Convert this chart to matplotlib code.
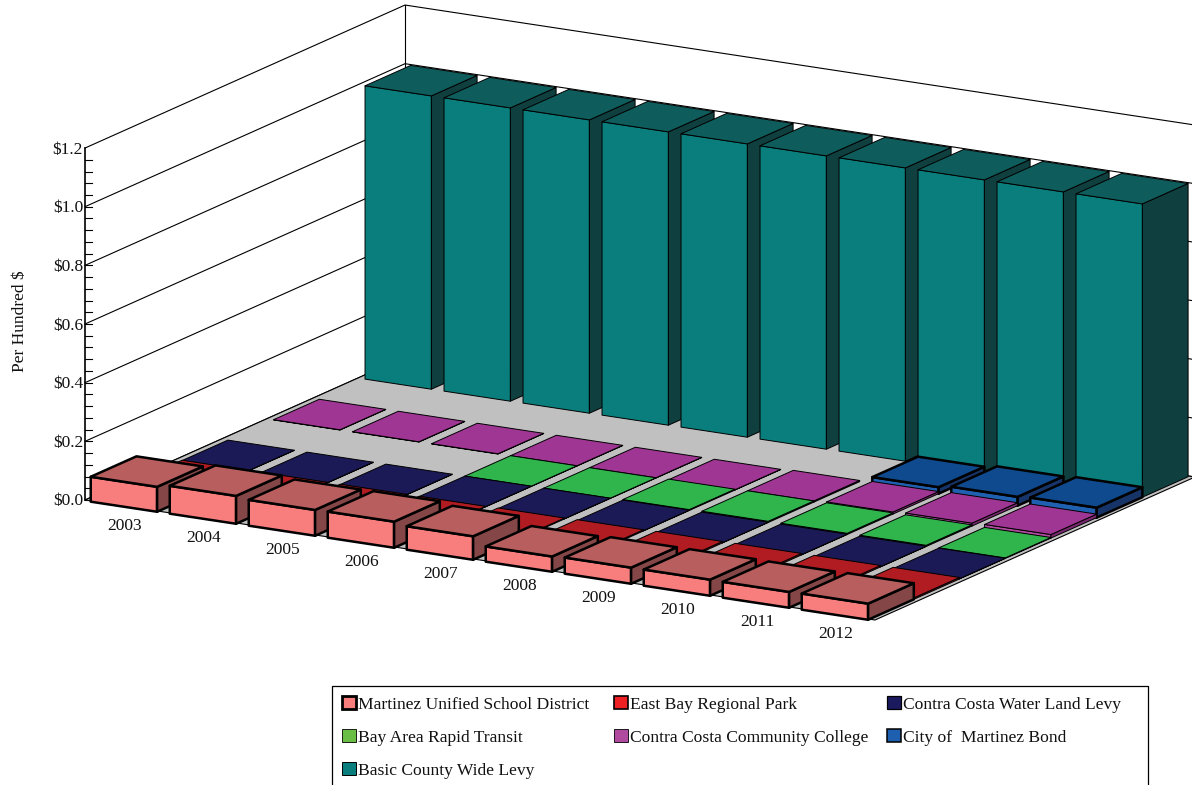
import numpy as np
import matplotlib
matplotlib.use('Agg')
import matplotlib.pyplot as plt
from matplotlib.patches import Polygon, Rectangle

plt.rcParams['font.family'] = ['Liberation Serif', 'DejaVu Serif']

# data
anos = ['2003', '2004', '2005', '2006', '2007', '2008', '2009', '2010', '2011', '2012']
nan = float('nan')
martinez = [0.085, 0.095, 0.088, 0.089, 0.080, 0.052, 0.055, 0.055, 0.054, 0.055]
east_bay = [0.002, 0.002, 0.002, 0.002, 0.003, 0.004, 0.005, 0.005, 0.005, 0.005]
water = [0.001, 0.001, 0.001, 0.001, 0.001, 0.001, 0.001, 0.001, 0.001, 0.001]
bart = [nan, nan, nan, 0.001, 0.001, 0.003, 0.004, 0.004, 0.004, 0.002]
college = [0.001, 0.001, 0.001, 0.001, 0.001, 0.001, 0.004, 0.007, 0.010, 0.012]
bond = [nan, nan, nan, nan, nan, nan, nan, 0.022, 0.030, 0.034]
county = [1.0, 1.0, 1.0, 1.0, 1.0, 1.0, 1.0, 1.0, 1.0, 1.0]
series = [martinez, east_bay, water, bart, college, bond, county]

nomes = ['Martinez Unified School District', 'East Bay Regional Park', 'Contra Costa Water Land Levy',
         'Bay Area Rapid Transit', 'Contra Costa Community College', 'City of  Martinez Bond',
         'Basic County Wide Levy']
valores_eixo = [0.0, 0.2, 0.4, 0.6, 0.8, 1.0, 1.2]

# colours per series: front, side, top, legend
cores = [('#F87E7E', '#844646', '#B85E5E', '#F87E7E'),
         ('#EE2024', '#8A1519', '#B01C22', '#EE2024'),
         ('#25236F', '#141240', '#1C1A56', '#1C1A5E'),
         ('#3CB54A', '#1F7A33', '#30B44C', '#6ABD45'),
         ('#B04A9E', '#7A2870', '#A03694', '#B04A9E'),
         ('#2060B0', '#163468', '#104A8E', '#1F5FAF'),
         ('#0A7E7C', '#0F3F3E', '#0F5C5C', '#0A7E7C')]
espessura = [1.8, 0.7, 0.7, 0.7, 0.7, 1.8, 0.7]

# oblique projection, pixels
ORIGEM = np.array([85.0, 500.0])
VEC_X = np.array([79.0, 12.0])
VEC_Z = np.array([320.0 / 7, -143.0 / 7])
PX_VALOR = 293.3


def proj(a, b, v=0.0):
    return ORIGEM + a * VEC_X + b * VEC_Z + np.array([0.0, -v * PX_VALOR])


def desenhar_barra(ax, a, b, v, cor, lw):
    l = 0.84  # largura
    frente = [proj(a, b, 0), proj(a + l, b, 0), proj(a + l, b, v), proj(a, b, v)]
    lado = [proj(a + l, b, 0), proj(a + l, b + 1, 0), proj(a + l, b + 1, v), proj(a + l, b, v)]
    topo = [proj(a, b, v), proj(a + l, b, v), proj(a + l, b + 1, v), proj(a, b + 1, v)]
    for pts, c in zip((frente, lado, topo), cor[:3]):
        ax.add_patch(Polygon(pts, closed=True, facecolor=c, edgecolor='black', linewidth=lw, joinstyle='round'))


fig = plt.figure(figsize=(11.92, 7.85), dpi=100)
ax = fig.add_axes([0, 0, 1, 1])
ax.set_xlim(0, 1192)
ax.set_ylim(785, 0)
ax.axis('off')

# floor
piso = [proj(0, 0), proj(10, 0), proj(10, 7), proj(0, 7)]
ax.add_patch(Polygon(piso, closed=True, facecolor='#C0C0C0', edgecolor='black', linewidth=0.8))

# walls and grid
for v in valores_eixo:
    p0, p1, p2 = proj(0, 0, v), proj(0, 7, v), proj(10, 7, v)
    ax.plot([p0[0], p1[0], p2[0]], [p0[1], p1[1], p2[1]], color='black', lw=0.8, zorder=0.5)
p_a, p_b = proj(0, 7, 0), proj(0, 7, 1.2)
ax.plot([p_a[0], p_b[0]], [p_a[1], p_b[1]], color='black', lw=0.8, zorder=0.5)

# value axis with ticks
p_a, p_b = proj(0, 0, 0), proj(0, 0, 1.2)
ax.plot([p_a[0], p_b[0]], [p_a[1], p_b[1]], color='black', lw=1.2, zorder=5)
for v in np.arange(0, 1.2, 0.04):
    p = proj(0, 0, v)
    ax.plot([p[0], p[0] + 7], [p[1], p[1]], color='black', lw=0.8, zorder=0.6)
for v in valores_eixo:
    p = proj(0, 0, v)
    ax.text(p[0] - 2, p[1] + 1.5, f'${v:.1f}', ha='right', va='center', fontsize=12.5, color='#111111')

# bars, back series first
for b in range(len(series) - 1, -1, -1):
    for i, v in enumerate(series[b]):
        if np.isnan(v):
            continue
        desenhar_barra(ax, i + 0.09, b - 0.03, v, cores[b], espessura[b])

# year labels
for i, ano in enumerate(anos):
    p = proj(i, 0)
    ax.text(p[0] + 40, p[1] + 26.5, ano, ha='center', va='center', fontsize=12.5, color='#111111')

ax.text(20, 321, 'Per Hundred $', rotation=90, ha='center', va='center', fontsize=12.5, color='#111111')

# legend box, runs off the bottom of the image
ax.plot([332, 332, 1148, 1148], [790, 686, 686, 790], color='black', lw=0.9)
col_x = [342, 614, 887]
lin_y = [703, 736, 769]
bordas = [2.0, 1.2, 0.9, 0.6, 0.6, 1.1, 0.7]
for k, nome in enumerate(nomes):
    x = col_x[k % 3]
    y = lin_y[k // 3]
    ax.add_patch(Rectangle((x, y - 7), 14, 13, facecolor=cores[k][3], edgecolor='black', linewidth=bordas[k]))
    ax.text(x + 16, y + 2, nome, ha='left', va='center', fontsize=12.6, color='#111111')

plt.savefig('out.png', dpi=100)
plt.close()
